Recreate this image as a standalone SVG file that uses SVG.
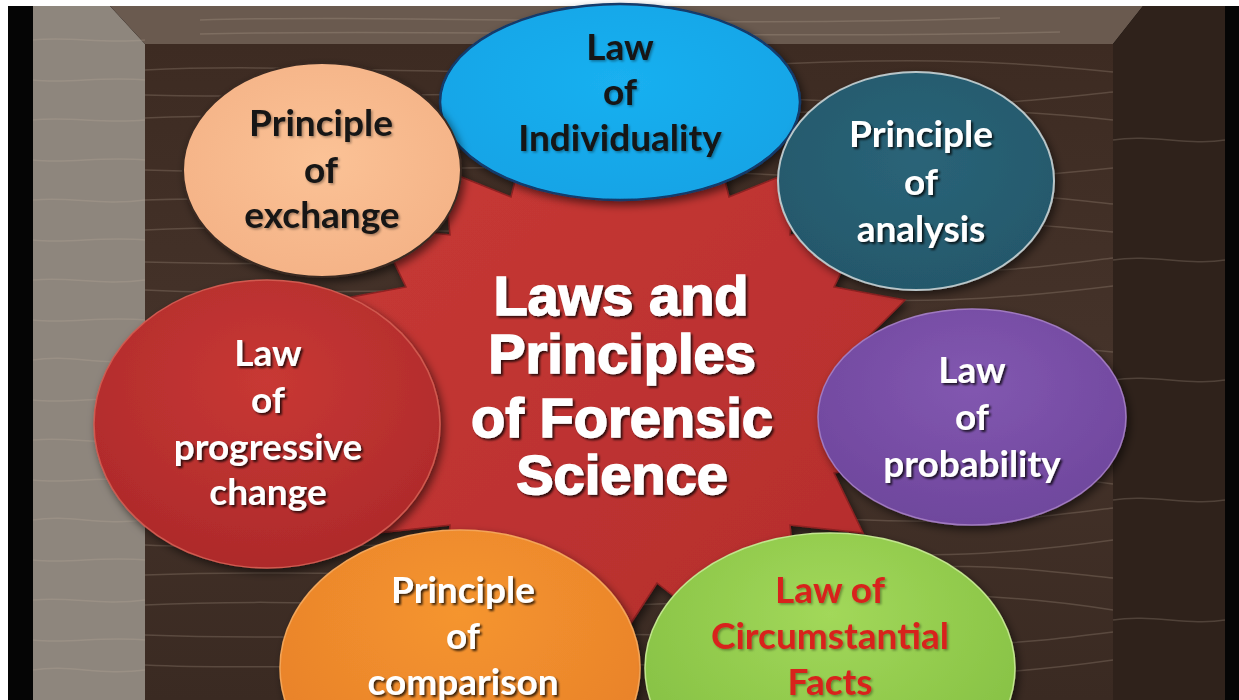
<svg xmlns="http://www.w3.org/2000/svg" width="1239" height="700" viewBox="0 0 1239 700">
<defs>
<style>
.lbl{font-family:Lato,"Open Sans","Liberation Sans",sans-serif;font-weight:700;font-size:37px;text-anchor:middle}
.dk{fill:#141414}
.wt{fill:#ffffff}
.rd{fill:#d8231c}
.title{font-family:"Liberation Sans",Arial,sans-serif;font-weight:700;font-size:56px;text-anchor:middle;fill:#ffffff;stroke:#ffffff;stroke-width:1.6}
.grain{fill:none;stroke:#c9b8a4;stroke-opacity:0.22;stroke-width:1.5}
</style>
<filter id="sh" x="-20%" y="-20%" width="140%" height="140%">
<feDropShadow dx="2" dy="2" stdDeviation="1.2" flood-color="#000" flood-opacity="0.75"/>
</filter>
<filter id="shl" x="-20%" y="-20%" width="140%" height="140%">
<feDropShadow dx="1.5" dy="1.5" stdDeviation="1" flood-color="#000" flood-opacity="0.35"/>
</filter>
<filter id="eshadow" x="-20%" y="-20%" width="140%" height="140%">
<feDropShadow dx="3" dy="4" stdDeviation="4" flood-color="#000" flood-opacity="0.55"/>
</filter>
<linearGradient id="wood" x1="0" y1="0" x2="0" y2="1">
<stop offset="0" stop-color="#3d2b22"/>
<stop offset="0.5" stop-color="#45332a"/>
<stop offset="1" stop-color="#3a2a22"/>
</linearGradient>
<linearGradient id="star" x1="0" y1="0" x2="1" y2="1">
<stop offset="0" stop-color="#c93a36"/>
<stop offset="1" stop-color="#b32c2c"/>
</linearGradient>
<radialGradient id="gBlue" cx="0.5" cy="0.4" r="0.6"><stop offset="0" stop-color="#1ab0f0"/><stop offset="1" stop-color="#13a4e6"/></radialGradient>
<radialGradient id="gPeach" cx="0.5" cy="0.45" r="0.6"><stop offset="0" stop-color="#fbc296"/><stop offset="1" stop-color="#f4b286"/></radialGradient>
<radialGradient id="gTeal" cx="0.5" cy="0.4" r="0.6"><stop offset="0" stop-color="#2a6478"/><stop offset="1" stop-color="#24586b"/></radialGradient>
<radialGradient id="gRed" cx="0.5" cy="0.35" r="0.65"><stop offset="0" stop-color="#c83834"/><stop offset="1" stop-color="#ae2a2b"/></radialGradient>
<radialGradient id="gPurple" cx="0.5" cy="0.35" r="0.65"><stop offset="0" stop-color="#8257b0"/><stop offset="1" stop-color="#6f479d"/></radialGradient>
<radialGradient id="gOrange" cx="0.5" cy="0.3" r="0.65"><stop offset="0" stop-color="#f5952f"/><stop offset="1" stop-color="#e8812a"/></radialGradient>
<radialGradient id="gGreen" cx="0.5" cy="0.3" r="0.65"><stop offset="0" stop-color="#a2d85a"/><stop offset="1" stop-color="#85c043"/></radialGradient>
</defs>

<!-- background frame -->
<g id="background">
<rect x="0" y="0" width="1239" height="700" fill="#ffffff"/>
<rect x="8" y="6" width="1231" height="694" fill="#050505"/>
<rect x="145" y="44" width="968" height="656" fill="url(#wood)"/>
<polygon points="33,6 110,6 145,44 145,700 33,700" fill="#8e867d"/>
<polygon points="110,6 1143,6 1113,44 145,44" fill="#6a5a4f"/>
<polygon points="1143,6 1225,6 1225,700 1113,700 1113,44" fill="#2f221b"/>
<g class="grain">
<path d="M145,70 C300,62 500,80 700,68 S1000,60 1113,72"/>
<path d="M145,95 C330,100 540,88 760,98 S1000,104 1113,92"/>
<path d="M145,118 C320,110 520,126 720,116 S1000,108 1113,120"/>
<path d="M145,170 C300,176 500,160 720,172 S1000,180 1113,168"/>
<path d="M145,200 C330,194 540,208 760,198 S1000,192 1113,204"/>
<path d="M145,230 C320,222 500,240 700,228 S980,218 1113,232"/>
<path d="M145,262 C330,268 540,256 760,266 S1000,272 1113,258"/>
<path d="M145,290 C300,298 520,282 720,294 S1000,300 1113,286"/>
<path d="M145,350 C320,342 500,360 700,348 S1000,340 1113,352"/>
<path d="M145,385 C330,390 540,378 760,388 S1000,394 1113,380"/>
<path d="M145,420 C300,428 520,410 720,422 S1000,430 1113,416"/>
<path d="M145,480 C320,470 500,490 700,478 S1000,468 1113,484"/>
<path d="M145,512 C330,518 540,506 760,516 S1000,522 1113,508"/>
<path d="M145,545 C300,552 520,536 720,548 S1000,556 1113,540"/>
<path d="M145,575 C330,568 540,582 760,572 S1000,566 1113,578"/>
<path d="M145,605 C320,596 500,614 700,602 S1000,592 1113,610"/>
<path d="M145,635 C330,642 540,628 760,638 S1000,646 1113,632"/>
<path d="M145,665 C300,672 520,656 720,668 S1000,676 1113,660"/>
<path d="M33,40 C70,36 100,44 145,40"/>
<path d="M33,80 C70,84 100,76 145,80"/>
<path d="M33,120 C70,116 100,124 145,120"/>
<path d="M33,160 C70,164 100,156 145,160"/>
<path d="M33,200 C70,196 100,206 145,200"/>
<path d="M33,240 C70,244 100,236 145,240"/>
<path d="M33,280 C70,276 100,286 145,280"/>
<path d="M33,320 C70,324 100,316 145,320"/>
<path d="M33,360 C70,354 100,366 145,360"/>
<path d="M33,400 C70,404 100,396 145,400"/>
<path d="M33,440 C70,436 100,446 145,440"/>
<path d="M33,480 C70,484 100,476 145,480"/>
<path d="M33,520 C70,514 100,526 145,520"/>
<path d="M33,560 C70,564 100,556 145,560"/>
<path d="M33,600 C70,596 100,606 145,600"/>
<path d="M33,640 C70,644 100,636 145,640"/>
<path d="M33,670 C70,664 100,676 145,670"/>
<path d="M1113,140 C1150,134 1190,146 1225,140"/>
<path d="M1113,260 C1150,254 1190,266 1225,260"/>
<path d="M1113,380 C1150,374 1190,386 1225,380"/>
<path d="M1113,500 C1150,494 1190,506 1225,500"/>
<path d="M1113,620 C1150,614 1190,626 1225,620"/>
<path d="M200,20 C400,14 700,28 1000,18"/>
<path d="M200,34 C420,28 720,40 1060,32"/>
</g>
</g>

<!-- central starburst -->
<g id="center">
<polygon points="920,380 857,412 905,460 834,473 863,533 790,525 796,590 729,563 713,627 657,583 620,640 583,583 527,627 511,563 444,590 450,525 377,533 406,473 335,460 383,412 320,380 383,348 335,300 406,287 377,227 450,235 444,170 511,197 527,133 583,177 620,120 657,177 713,133 729,197 796,170 790,235 863,227 834,287 905,300 857,348" fill="url(#star)" stroke="#8e2222" stroke-width="1.5" stroke-linejoin="miter" filter="url(#eshadow)"/>
<g class="title" filter="url(#sh)">
<text x="621" y="315">Laws and</text>
<text x="622" y="373">Principles</text>
<text x="622" y="437">of Forensic</text>
<text x="622" y="494">Science</text>
</g>
</g>

<!-- nodes -->
<g id="n-individuality">
<ellipse cx="620" cy="102" rx="180" ry="98" fill="url(#gBlue)" stroke="#123a6a" stroke-width="2.5" filter="url(#eshadow)"/>
<g class="lbl dk" filter="url(#shl)">
<text x="620" y="60">Law</text>
<text x="620" y="105">of</text>
<text x="620" y="151">Individuality</text>
</g>
</g>

<g id="n-exchange">
<ellipse cx="322" cy="170" rx="139" ry="107" fill="url(#gPeach)" stroke="#3a2a22" stroke-width="2" filter="url(#eshadow)"/>
<g class="lbl dk" filter="url(#shl)">
<text x="321" y="136">Principle</text>
<text x="321" y="183">of</text>
<text x="322" y="228">exchange</text>
</g>
</g>

<g id="n-analysis">
<ellipse cx="916" cy="181" rx="138" ry="109" fill="url(#gTeal)" stroke="#b9c6c9" stroke-width="2" filter="url(#eshadow)"/>
<g class="lbl wt" filter="url(#sh)">
<text x="921" y="147">Principle</text>
<text x="921" y="195">of</text>
<text x="921" y="242">analysis</text>
</g>
</g>

<g id="n-progressive">
<ellipse cx="267" cy="424" rx="173" ry="144" fill="url(#gRed)" stroke="#d05a50" stroke-width="1.5" filter="url(#eshadow)"/>
<g class="lbl wt" filter="url(#sh)">
<text x="268" y="366">Law</text>
<text x="268" y="413">of</text>
<text x="268" y="460">progressive</text>
<text x="268" y="505">change</text>
</g>
</g>

<g id="n-probability">
<ellipse cx="972" cy="417" rx="154" ry="108" fill="url(#gPurple)" stroke="#a07ac0" stroke-width="1.5" filter="url(#eshadow)"/>
<g class="lbl wt" filter="url(#sh)">
<text x="972" y="383">Law</text>
<text x="972" y="430">of</text>
<text x="972" y="477">probability</text>
</g>
</g>

<g id="n-comparison">
<ellipse cx="460" cy="668" rx="180" ry="138" fill="url(#gOrange)" stroke="#f3a558" stroke-width="1.5" filter="url(#eshadow)"/>
<g class="lbl wt" filter="url(#sh)">
<text x="463" y="603">Principle</text>
<text x="463" y="649">of</text>
<text x="463" y="695">comparison</text>
</g>
</g>

<g id="n-circumstantial">
<ellipse cx="830" cy="668" rx="185" ry="135" fill="url(#gGreen)" stroke="#c2e58e" stroke-width="1.5" filter="url(#eshadow)"/>
<g class="lbl rd" filter="url(#shl)">
<text x="830" y="603">Law of</text>
<text x="830" y="649">Circumstantial</text>
<text x="830" y="695">Facts</text>
</g>
</g>

<g id="connectors"></g>
</svg>
